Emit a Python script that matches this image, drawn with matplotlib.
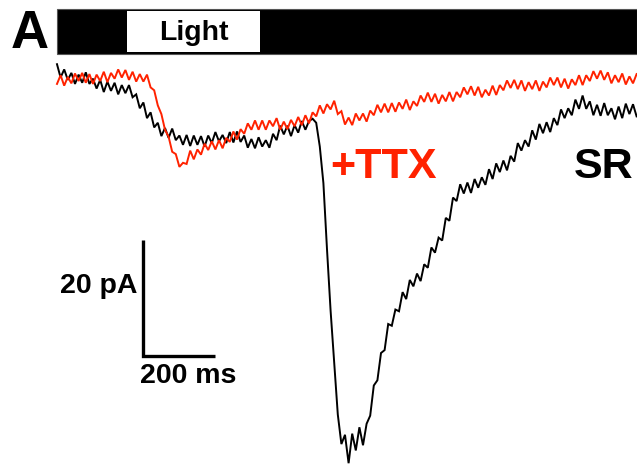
import numpy as np
import matplotlib
matplotlib.use("Agg")
import matplotlib.pyplot as plt
from matplotlib.patches import Rectangle

# ---- data (time step 10 ms, current in pA) ----
dt_ms = 10
sr_trace_pA = [
    1.0, -1.3, 0.1, -1.7, -0.5, -2.4, -0.8, -2.2, -0.4, -2.4, -1.5, -3.2,
    -1.7, -3.8, -2.0, -3.6, -2.2, -4.2, -2.6, -4.0, -2.6, -4.7, -4.2, -6.6,
    -5.6, -8.3, -7.3, -9.9, -9.1, -11.4, -10.0, -11.7, -10.1, -12.1, -11.3, -12.9,
    -11.2, -13.1, -11.3, -12.9, -11.4, -13.2, -11.3, -12.6, -10.7, -12.3, -11.2, -12.6,
    -10.7, -12.5, -10.6, -12.4, -11.3, -13.4, -11.9, -13.5, -11.6, -13.2, -12.1, -13.4,
    -11.0, -12.1, -9.6, -11.1, -9.6, -11.4, -9.5, -10.8, -8.8, -10.3, -8.8, -8.4,
    -9.1, -13.2, -19.5, -30.9, -41.5, -50.4, -59.4, -64.5, -62.9, -67.8, -62.7, -65.6,
    -61.6, -64.7, -61.0, -59.6, -54.4, -53.5, -48.8, -48.3, -43.8, -44.1, -41.3, -41.6,
    -38.3, -39.5, -36.2, -37.3, -35.1, -36.4, -33.5, -34.1, -30.6, -31.5, -28.9, -29.4,
    -25.5, -26.0, -22.0, -22.6, -19.7, -21.3, -19.4, -21.2, -18.8, -20.3, -18.5, -19.8,
    -17.1, -18.8, -16.1, -17.6, -15.6, -17.3, -14.8, -15.8, -12.6, -13.9, -12.1, -13.2,
    -10.4, -12.0, -9.3, -10.9, -9.0, -10.7, -8.3, -9.5, -6.8, -8.3, -6.6, -7.8,
    -5.1, -6.7, -4.4, -6.7, -5.4, -7.8, -6.0, -7.9, -5.7, -7.8, -6.6, -8.5,
    -6.3, -8.3, -5.8, -7.6, -5.9, -8.0,
]
ttx_trace_pA = [
    -2.4, -0.9, -2.7, -1.2, -2.3, -0.6, -1.9, -0.5, -2.2, -0.7, -2.4, -0.8,
    -1.9, -0.3, -2.1, -0.5, -1.5, 0.1, -1.3, 0.0, -1.7, -0.3, -2.0, -0.7,
    -2.0, -0.8, -3.0, -3.5, -6.1, -7.6, -10.3, -11.5, -14.1, -14.5, -16.7, -16.0,
    -16.2, -13.9, -15.4, -13.7, -14.6, -12.7, -13.8, -12.3, -13.7, -12.1, -13.5, -11.7,
    -12.4, -10.6, -12.0, -10.2, -11.0, -9.2, -10.3, -8.7, -10.3, -8.7, -10.3, -8.7,
    -9.7, -8.3, -10.3, -8.9, -10.2, -8.6, -9.7, -8.1, -9.5, -7.8, -9.2, -7.3,
    -8.0, -6.1, -7.5, -5.9, -6.8, -5.3, -7.6, -7.1, -9.4, -8.2, -9.5, -7.5,
    -8.7, -7.5, -8.9, -7.0, -7.8, -6.0, -7.3, -5.8, -7.3, -5.7, -7.2, -5.6,
    -6.7, -5.1, -6.9, -5.4, -6.2, -4.4, -5.5, -3.9, -5.5, -4.1, -5.8, -4.3,
    -5.4, -3.8, -5.4, -3.8, -4.7, -3.0, -4.2, -2.8, -4.4, -2.9, -4.7, -3.4,
    -4.4, -2.7, -4.3, -2.6, -3.5, -1.8, -3.1, -1.7, -3.3, -1.8, -3.6, -2.1,
    -3.3, -1.8, -3.6, -2.0, -3.0, -1.3, -2.6, -1.3, -3.0, -1.5, -3.2, -1.6,
    -2.6, -0.9, -2.6, -0.9, -1.9, -0.2, -1.5, -0.1, -1.7, -0.4, -2.3, -0.9,
    -2.1, -0.6, -2.5, -1.1, -2.3, -0.7,
]
trace_names = ["SR", "+TTX"]
trace_colors = ["#000000", "#ff2200"]

light_on_ms, light_off_ms = 195, 565
record_end_ms = 1611
scalebar_ms, scalebar_pA = 200, 20
scalebar_origin = (239, -49.3)

# ---- figure ----
fig = plt.figure(figsize=(6.37, 4.70), dpi=100)
ax = fig.add_axes([0, 0, 1, 1])
ax.set_xlim(-158.3, 1611.1)
ax.set_ylim(-68.97, 12.07)
ax.axis("off")

FONT = "Liberation Sans"

t_sr = np.arange(len(sr_trace_pA)) * dt_ms
t_ttx = np.arange(len(ttx_trace_pA)) * dt_ms
ax.plot(t_sr, sr_trace_pA, color=trace_colors[0], lw=1.4, solid_joinstyle="miter")
ax.plot(t_ttx, ttx_trace_pA, color=trace_colors[1], lw=1.4, solid_joinstyle="miter")

# stimulus bar
bar_top, bar_bot = 10.5, 2.8
ax.add_patch(Rectangle((0, bar_bot), record_end_ms, bar_top - bar_bot,
                       facecolor="black", edgecolor="#555555", lw=0.8))
ax.add_patch(Rectangle((light_on_ms, bar_bot + 0.25), light_off_ms - light_on_ms,
                       bar_top - bar_bot - 0.5, facecolor="white", edgecolor="none"))
ax.text((light_on_ms + light_off_ms) / 2, 5.1, "Light", ha="center", va="baseline",
        fontsize=20.5, fontweight="bold", family=FONT)

# panel letter
ax.text(-130, 3.8, "A", ha="left", va="baseline", fontsize=38,
        fontweight="bold", family=FONT)

# scale bar
x0, y0 = scalebar_origin
ax.plot([x0, x0, x0 + scalebar_ms], [y0 + scalebar_pA, y0, y0],
        color="black", lw=2.4, solid_capstyle="butt", solid_joinstyle="miter")
ax.text(x0 - 15, y0 + scalebar_pA * 0.6, f"{scalebar_pA} pA", ha="right",
        va="center", fontsize=20.5, fontweight="bold", family=FONT)
ax.text(x0 - 8, y0 - 1.3, f"{scalebar_ms} ms", ha="left", va="top",
        fontsize=20.5, fontweight="bold", family=FONT)

# trace labels
ax.text(758, -18.6, trace_names[1], color=trace_colors[1], ha="left",
        va="baseline", fontsize=31, fontweight="bold", family=FONT)
ax.text(1600, -18.6, trace_names[0], color=trace_colors[0], ha="right",
        va="baseline", fontsize=31, fontweight="bold", family=FONT)

fig.savefig("out.png", dpi=100)
